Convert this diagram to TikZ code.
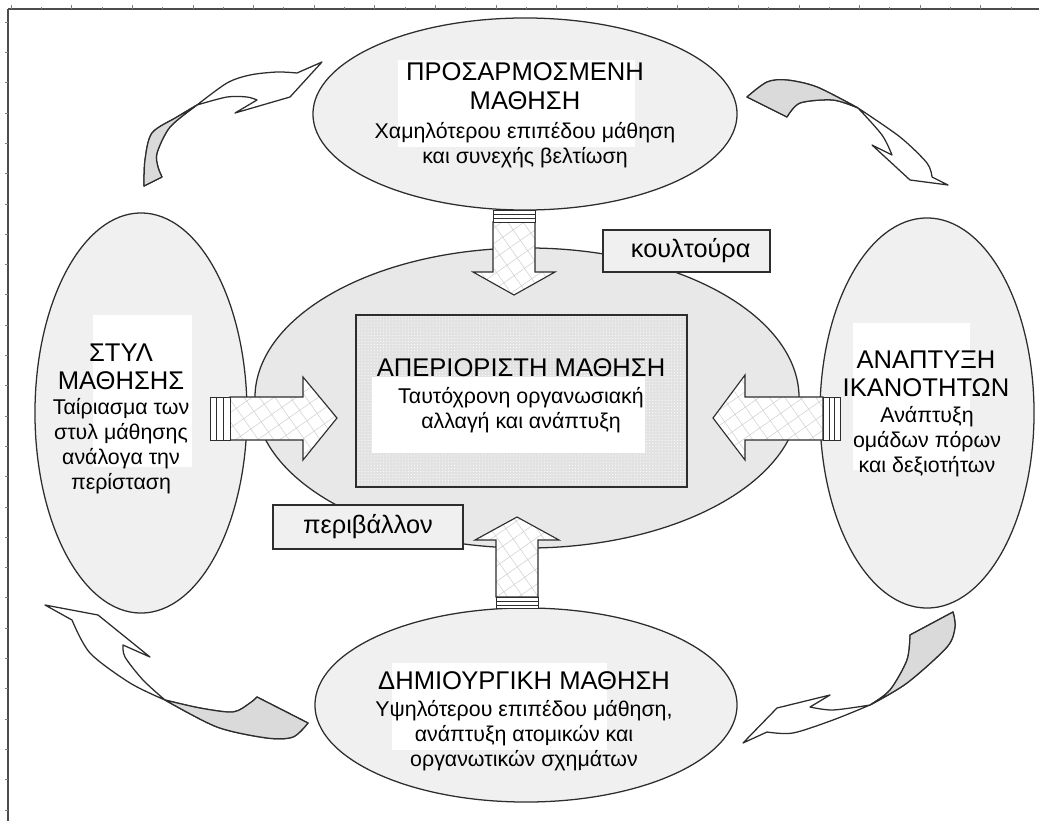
\documentclass[tikz,border=0pt]{standalone}
\usepackage{fontspec}
\setmainfont{Liberation Sans}
\usetikzlibrary{positioning,shapes.geometric,patterns.meta}
\definecolor{bubblegray}{RGB}{240,240,240}
\definecolor{coregray}{RGB}{232,232,232}
\definecolor{boxgray}{RGB}{226,226,226}
\definecolor{backgray}{RGB}{218,218,218}
\definecolor{ink}{RGB}{45,45,45}
\newcommand{\titlefont}{\fontsize{18.2}{20.2}\selectfont}
\newcommand{\bodyfont}{\fontsize{15.2}{17.8}\selectfont}
\newcommand{\tagfont}{\fontsize{18}{20}\selectfont}

\tikzset{
  bubble/.style={ellipse, draw=ink, line width=0.9pt, fill=bubblegray, inner sep=0pt},
  heading/.style={font=\titlefont, align=center, inner sep=0pt},
  body/.style={font=\bodyfont, align=center, inner sep=0pt},
  tag/.style={draw=ink, line width=0.9pt, fill=bubblegray, font=\tagfont, inner sep=0pt},
  patch/.style={fill=white},
  hatcharrow/.style={draw=ink, line width=0.8pt, line join=miter, preaction={fill=white},
    pattern={Hatch[angle=35,distance=9pt,line width=0.4pt]}, pattern color=gray!35},
  stripe/.style={draw=ink, line width=0.7pt, fill=white},
  curvearrow/.style={draw=ink, line width=0.9pt, fill=white, line join=round},
  frameline/.style={draw=gray!60!black, line width=1.1pt},
  tick/.style={draw=gray, line width=0.4pt}
}

\begin{document}
\begin{tikzpicture}[x=0.025cm, y=-0.025cm]
  \useasboundingbox (0,0) rectangle (1039,821);

  % frame with ruler ticks
  \draw[frameline] (8,9) -- (1039,9);
  \draw[frameline] (8,9) -- (8,821);
  \foreach \i in {0,...,33} {
    \pgfmathsetmacro{\len}{ifthenelse(mod(\i,2)==0,4,2)}
    \draw[tick] ({11+30.3*\i},9) -- ++(0,-\len);
  }
  \foreach \i in {0,...,26}
    \draw[tick] (8,{22+30.3*\i}) -- ++(-3,0);

  % the five bubbles
  \node[bubble, fill=coregray, minimum width=13.6cm, minimum height=7.5cm] (core) at (527,398) {};
  \node[bubble, minimum width=10.6cm, minimum height=4.8cm] (adapt) at (525,114) {};
  \node[bubble, minimum width=5.3cm, minimum height=10cm] (style) at (141,413) {};
  \node[bubble, minimum width=5.35cm, minimum height=9.75cm] (skills) at (927,413) {};
  \node[bubble, minimum width=10.55cm, minimum height=4.85cm] (create) at (526,705) {};
  \node[draw=ink, line width=0.8pt, minimum width=8.275cm, minimum height=4.3cm,
    preaction={fill=boxgray}, pattern={Dots[distance=2.2pt,radius=0.4pt]}, pattern color=white] (unbound) at (521.5,401) {};

  % white patches behind the texts
  \fill[patch] (398,60) rectangle (635,147);
  \fill[patch] (93,315) rectangle (192,467);
  \fill[patch] (853,323) rectangle (970,470);
  \fill[patch] (392,663) rectangle (607,750);
  \fill[patch] (372,377) rectangle (645,453);

  % texts
  \node[heading] (adaptTitle) at (525,86) {ΠΡΟΣΑΡΜΟΣΜΕΝΗ\\ΜΑΘΗΣΗ};
  \node[body] (adaptBody) at (525,145) {Χαμηλότερου επιπέδου μάθηση\\και συνεχής βελτίωση};
  \node[heading] (styleTitle) at (121,367) {ΣΤΥΛ\\ΜΑΘΗΣΗΣ};
  \node[body] (styleBody) at (121,446) {Ταίριασμα των\\στυλ μάθησης\\ανάλογα την\\περίσταση};
  \node[heading] (skillsTitle) at (926,374) {ΑΝΑΠΤΥΞΗ\\ΙΚΑΝΟΤΗΤΩΝ};
  \node[body] (skillsBody) at (927,442) {Ανάπτυξη\\ομάδων πόρων\\και δεξιοτήτων};
  \node[heading] (createTitle) at (524,681) {ΔΗΜΙΟΥΡΓΙΚΗ ΜΑΘΗΣΗ};
  \node[body] (createBody) at (524,736) {Υψηλότερου επιπέδου μάθηση,\\ανάπτυξη ατομικών και\\οργανωτικών σχημάτων};
  \node[heading] (unboundTitle) at (521,368) {ΑΠΕΡΙΟΡΙΣΤΗ ΜΑΘΗΣΗ};
  \node[body] (unboundBody) at (521,410) {Ταυτόχρονη οργανωσιακή\\αλλαγή και ανάπτυξη};

  % tags
  \node[tag, minimum width=4.175cm, minimum height=1.05cm] (culture) at (686.5,251) {\hspace*{6pt}κουλτούρα};
  \node[tag, minimum width=4.75cm, minimum height=1.1cm] (environment) at (368,527) {περιβάλλον};

  % hatched block arrows into the core
  \draw[hatcharrow] (493,222) -- (493,272) -- (473,272) -- (514,295) -- (555,272) -- (535,272) -- (535,222) -- cycle;
  \draw[stripe] (493,210) rectangle (535,222);
  \draw[stripe] (493,214) -- (535,214) (493,218) -- (535,218);

  \draw[hatcharrow] (496,597) -- (496,540) -- (475,540) -- (517,517) -- (559,540) -- (538,540) -- (538,597) -- cycle;
  \draw[stripe] (496,597) rectangle (538,608);
  \draw[stripe] (496,601) -- (538,601) (496,605) -- (538,605);

  \draw[hatcharrow] (230,397) -- (303,397) -- (303,377) -- (337,418) -- (303,460) -- (303,440) -- (230,440) -- cycle;
  \draw[stripe] (210,397) rectangle (230,440);
  \draw[stripe] (216,397) -- (216,440) (223,397) -- (223,440);

  \draw[hatcharrow] (823,397) -- (745,397) -- (745,375) -- (713,418) -- (745,460) -- (745,440) -- (823,440) -- cycle;
  \draw[stripe] (823,397) rectangle (840,440);
  \draw[stripe] (829,397) -- (829,440) (834,397) -- (834,440);

  % curved arrows round the cycle
  % top left
  \draw[curvearrow] plot[smooth] coordinates {(144,186) (145,160) (152,133) (177,117) (197,105)}
    -- plot[smooth] coordinates {(197,105) (227,83) (250,75) (277,72) (297,73)}
    -- (322,62) -- (290,97) -- (235,113) -- (257,100)
    -- plot[smooth] coordinates {(257,100) (247,97) (227,97) (197,105)}
    -- plot[smooth] coordinates {(197,105) (170,127) (157,153) (158,167) (162,177)} -- cycle;
  \draw[curvearrow, fill=backgray] plot[smooth] coordinates {(144,186) (145,160) (152,133) (177,117) (197,105)}
    -- plot[smooth] coordinates {(197,105) (170,127) (157,153) (158,167) (162,177)} -- cycle;
  % top right
  \draw[curvearrow] plot[smooth] coordinates {(747,97) (767,82) (787,80) (817,87) (858,108)}
    -- plot[smooth] coordinates {(858,108) (900,137) (927,163) (932,177)}
    -- (948,185) -- (910,180) -- (872,145) -- (892,155)
    -- plot[smooth] coordinates {(892,155) (882,135) (858,108)}
    -- plot[smooth] coordinates {(858,108) (833,100) (800,103) (787,117)} -- cycle;
  \draw[curvearrow, fill=backgray] plot[smooth] coordinates {(747,97) (767,82) (787,80) (817,87) (858,108)}
    -- plot[smooth] coordinates {(858,108) (833,100) (800,103) (787,117)} -- cycle;
  % bottom right
  \draw[curvearrow] plot[smooth] coordinates {(953,612) (955,627) (947,647) (907,683) (870,705)}
    -- plot[smooth] coordinates {(870,705) (833,720) (793,733) (767,732)}
    -- (743,743) -- (777,708) -- (830,695) -- (810,707)
    -- plot[smooth] coordinates {(810,707) (833,710) (870,705)}
    -- plot[smooth] coordinates {(870,705) (890,690) (907,660) (910,635)} -- cycle;
  \draw[curvearrow, fill=backgray] plot[smooth] coordinates {(953,612) (955,627) (947,647) (907,683) (870,705)}
    -- plot[smooth] coordinates {(870,705) (890,690) (907,660) (910,635)} -- cycle;
  % bottom left
  \draw[curvearrow] plot[smooth] coordinates {(308,723) (293,737) (267,738) (217,727) (165,700)}
    -- plot[smooth] coordinates {(165,700) (130,683) (90,653) (72,620)}
    -- (45,605) -- (98,615) -- (150,657) -- (123,645)
    -- plot[smooth] coordinates {(123,645) (125,657) (143,680) (165,700)}
    -- plot[smooth] coordinates {(165,700) (200,708) (233,712) (250,703) (257,697)} -- cycle;
  \draw[curvearrow, fill=backgray] plot[smooth] coordinates {(308,723) (293,737) (267,738) (217,727) (165,700)}
    -- plot[smooth] coordinates {(165,700) (200,708) (233,712) (250,703) (257,697)} -- cycle;
\end{tikzpicture}
\end{document}
